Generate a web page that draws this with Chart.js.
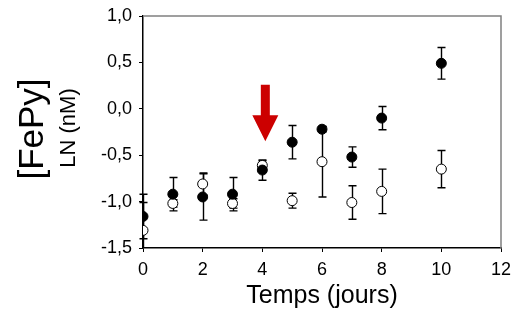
<!DOCTYPE html>
<html>
<head>
<meta charset="utf-8">
<script src="https://cdn.jsdelivr.net/npm/chart.js@4/dist/chart.umd.min.js"></script>
<style>
  html,body{margin:0;padding:0;background:#fff;}
  canvas{display:block;}
</style>
</head>
<body>
<canvas id="c" width="515" height="321"></canvas>
<script>
// jours
const joursPleins = [0, 1, 2, 3, 4, 5, 6, 7, 8, 10];
const lnPleins    = [-1.16, -0.92, -0.95, -0.92, -0.66, -0.36, -0.22, -0.52, -0.10, 0.49];
const errPleins   = [0.24, 0.18, 0.25, 0.18, 0.11, 0.18, 0.03, 0.11, 0.125, 0.17];

const joursVides  = [0, 1, 2, 3, 4, 5, 6, 7, 8, 10];
const lnVides     = [-1.31, -1.02, -0.81, -1.02, -0.61, -0.99, -0.57, -1.01, -0.89, -0.65];
const errVides    = [0.30, 0.04, 0.12, 0.05, 0.05, 0.08, 0.38, 0.18, 0.24, 0.20];

// fleche rouge (jour 4) : haut et pointe, en unités des axes
const flecheX = 4.1;
const flecheHaut = 0.26;
const flechePointe = -0.35;

const fmt = v => v.toFixed(1).replace('.', ',');
const police = '"Liberation Sans", Arial, sans-serif';

const pts = (xs, ys, es) => xs.map((x,i)=>({x, y: ys[i], e: es[i]}));

const errorBars = {
  id:'errorBars',
  beforeDatasetsDraw(chart){
    const {ctx, chartArea:a, scales:{x, y}} = chart;
    ctx.save();
    ctx.beginPath();
    ctx.rect(a.left-10, a.top, a.right-a.left+20, a.bottom-a.top);
    ctx.clip();
    ctx.strokeStyle = '#000';
    ctx.lineWidth = 1.4;
    chart.data.datasets.forEach(ds=>{
      ds.data.forEach(p=>{
        const px = Math.round(x.getPixelForValue(p.x)) + 0.5;
        const y1 = y.getPixelForValue(p.y + p.e);
        const y2 = y.getPixelForValue(p.y - p.e);
        ctx.beginPath();
        ctx.moveTo(px, y1); ctx.lineTo(px, y2);
        ctx.moveTo(px-4, y1); ctx.lineTo(px+4, y1);
        ctx.moveTo(px-4, y2); ctx.lineTo(px+4, y2);
        ctx.stroke();
      });
    });
    ctx.restore();
  }
};

const cadreEtTextes = {
  id:'cadreEtTextes',
  afterDraw(chart){
    const {ctx, chartArea:a, scales:{x, y}} = chart;
    ctx.save();
    // cadre gris haut et droite
    ctx.strokeStyle = '#808080';
    ctx.lineWidth = 1.5;
    ctx.beginPath();
    ctx.moveTo(a.left, a.top); ctx.lineTo(a.right, a.top); ctx.lineTo(a.right, a.bottom);
    ctx.stroke();

    // fleche
    const fx = x.getPixelForValue(flecheX);
    const ft = y.getPixelForValue(flecheHaut);
    const fp = y.getPixelForValue(flechePointe);
    const hh = 26;
    ctx.fillStyle = '#cc0000';
    ctx.beginPath();
    ctx.moveTo(fx-4.5, ft); ctx.lineTo(fx+4.5, ft);
    ctx.lineTo(fx+4.5, fp-hh); ctx.lineTo(fx+13, fp-hh);
    ctx.lineTo(fx, fp); ctx.lineTo(fx-13, fp-hh);
    ctx.lineTo(fx-4.5, fp-hh);
    ctx.closePath();
    ctx.fill();

    // titre axe y
    ctx.fillStyle = '#000';
    ctx.textAlign = 'center';
    ctx.textBaseline = 'middle';
    ctx.save();
    ctx.translate(33, 129);
    ctx.rotate(-Math.PI/2);
    ctx.font = '35px ' + police;
    ctx.fillText('[FePy]', 0, 0);
    ctx.restore();
    ctx.save();
    ctx.translate(69, 128);
    ctx.rotate(-Math.PI/2);
    ctx.font = '22px ' + police;
    ctx.fillText('LN (nM)', 0, 0);
    ctx.restore();
    ctx.restore();
  }
};

new Chart(document.getElementById('c'), {
  type:'scatter',
  data:{
    datasets:[
      { label:'plein', data: pts(joursPleins, lnPleins, errPleins),
        backgroundColor:'#000', borderColor:'#000', borderWidth:1, pointRadius:5 },
      { label:'vide', data: pts(joursVides, lnVides, errVides),
        backgroundColor:'#fff', borderColor:'#000', borderWidth:1, pointRadius:5 }
    ]
  },
  options:{
    responsive:false, animation:false,
    layout:{ padding:{ top:16, right:14, left:0, bottom:0 } },
    plugins:{ legend:{display:false}, tooltip:{enabled:false} },
    scales:{
      x:{
        type:'linear', min:0, max:12,
        ticks:{ stepSize:2, color:'#000', font:{size:18, family:police}, padding:7 },
        grid:{ drawOnChartArea:false, drawTicks:true, tickLength:4, color:'#000' },
        border:{ color:'#000', width:1.5 },
        title:{ display:true, text:'Temps (jours)', color:'#000', font:{size:25, family:police}, padding:{top:2, bottom:10} },
        afterFit(s){ s.height = 73; s.paddingLeft = 0; s.paddingRight = 0; }
      },
      y:{
        min:-1.5, max:1.0,
        ticks:{ stepSize:0.5, color:'#000', font:{size:18, family:police}, padding:7, callback: v => fmt(v) },
        grid:{ drawOnChartArea:false, drawTicks:true, tickLength:4, color:'#000' },
        border:{ color:'#000', width:1.5 },
        afterFit(s){ s.width = 143; s.paddingTop = 0; s.paddingBottom = 0; }
      }
    }
  },
  plugins:[errorBars, cadreEtTextes]
});
</script>
</body>
</html>
